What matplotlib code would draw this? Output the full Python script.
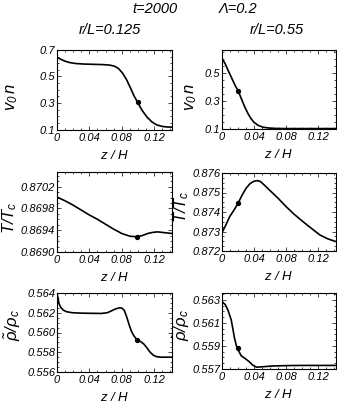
import matplotlib
matplotlib.use("Agg")
import matplotlib.pyplot as plt
from matplotlib.ticker import FixedLocator, AutoMinorLocator

plt.rcParams['font.family'] = ['Liberation Sans', 'DejaVu Sans']
plt.rcParams['mathtext.fontset'] = 'custom'
plt.rcParams['mathtext.it'] = 'Liberation Sans:italic'
plt.rcParams['mathtext.rm'] = 'Liberation Sans:italic'
plt.rcParams['mathtext.sf'] = 'Liberation Sans:italic'

# ---- data ----
x_ticks = [0, 0.04, 0.08, 0.12]
x_tick_labels = ["0", "0.04", "0.08", "0.12"]

# left column r/L = 0.125
vn_left_x = [0.0, 0.004, 0.009, 0.015, 0.023, 0.033, 0.044, 0.056, 0.065, 0.071, 0.076, 0.081, 0.086, 0.091, 0.095, 0.100, 0.105, 0.111, 0.117, 0.123, 0.130, 0.136, 0.142]
vn_left_y = [0.645, 0.632, 0.618, 0.606, 0.598, 0.594, 0.592, 0.590, 0.586, 0.578, 0.560, 0.525, 0.475, 0.410, 0.355, 0.300, 0.245, 0.195, 0.158, 0.135, 0.123, 0.119, 0.118]
vn_left_mark = (0.1, 0.31)

T_left_x = [0.0, 0.01, 0.02, 0.03, 0.04, 0.05, 0.06, 0.07, 0.08, 0.09, 0.098, 0.105, 0.112, 0.118, 0.124, 0.130, 0.136, 0.142]
T_left_y = [0.87001, 0.86994, 0.86986, 0.86977, 0.86968, 0.86960, 0.86951, 0.86942, 0.86934, 0.86929, 0.86928, 0.86930, 0.86934, 0.86936, 0.86937, 0.86936, 0.86935, 0.86934]
T_left_mark = (0.099, 0.86928)

p_left_x = [0.0, 0.001, 0.0025, 0.005, 0.008, 0.012, 0.019, 0.03, 0.044, 0.055, 0.062, 0.067, 0.072, 0.077, 0.080, 0.083, 0.086, 0.089, 0.092, 0.095, 0.098, 0.102, 0.107, 0.111, 0.115, 0.119, 0.123, 0.128, 0.135, 0.142]
p_left_y = [0.5640, 0.5636, 0.5629, 0.5625, 0.56225, 0.56210, 0.56200, 0.56196, 0.56194, 0.56193, 0.56200, 0.56218, 0.56238, 0.56250, 0.56248, 0.56225, 0.56160, 0.56080, 0.56010, 0.55965, 0.55935, 0.55915, 0.55885, 0.55845, 0.55800, 0.55770, 0.55755, 0.55750, 0.55750, 0.55750]
p_left_mark = (0.099, 0.55928)

# right column r/L = 0.55
vn_right_x = [0.0, 0.004, 0.0075, 0.012, 0.016, 0.020, 0.024, 0.028, 0.032, 0.036, 0.040, 0.045, 0.051, 0.058, 0.068, 0.080, 0.100, 0.120, 0.142]
vn_right_y = [0.605, 0.565, 0.520, 0.465, 0.415, 0.373, 0.318, 0.262, 0.214, 0.175, 0.147, 0.126, 0.113, 0.107, 0.104, 0.103, 0.103, 0.103, 0.103]
vn_right_mark = (0.02, 0.373)

T_right_x = [0.0, 0.005, 0.0095, 0.015, 0.020, 0.025, 0.030, 0.035, 0.040, 0.044, 0.048, 0.053, 0.059, 0.070, 0.080, 0.090, 0.101, 0.112, 0.122, 0.132, 0.142]
T_right_y = [0.87294, 0.87335, 0.87376, 0.87410, 0.87445, 0.87486, 0.87522, 0.87546, 0.87558, 0.87561, 0.87556, 0.87537, 0.87513, 0.87470, 0.87427, 0.87388, 0.87350, 0.87314, 0.87282, 0.87262, 0.87248]
T_right_mark = (0.02, 0.87445)

p_right_x = [0.0, 0.004, 0.0075, 0.0115, 0.0135, 0.0156, 0.018, 0.020, 0.024, 0.029, 0.034, 0.038, 0.043, 0.048, 0.055, 0.063, 0.072, 0.085, 0.101, 0.120, 0.142]
p_right_y = [0.56285, 0.56260, 0.56210, 0.56126, 0.56050, 0.55967, 0.55900, 0.55865, 0.55815, 0.55790, 0.55763, 0.55735, 0.55716, 0.55718, 0.55722, 0.55726, 0.55728, 0.55730, 0.55731, 0.55731, 0.55731]
p_right_mark = (0.02, 0.5588)

W, H = 337, 404
fig = plt.figure(figsize=(W / 100, H / 100), dpi=100)

def rect(l, r, t, b):
    return [l / W, 1 - b / H, (r - l) / W, (b - t) / H]

panels = [
    dict(r=rect(57, 172, 50, 129.5), x=vn_left_x, y=vn_left_y, m=vn_left_mark,
         ylim=(0.1, 0.7), yt=[0.1, 0.3, 0.5, 0.7], yfmt="{:.1f}", lab=r"$v_0\,n$", lx=12, ly=97),
    dict(r=rect(222, 336, 50, 129), x=vn_right_x, y=vn_right_y, m=vn_right_mark,
         ylim=(0.1, 0.664), yt=[0.1, 0.3, 0.5], yfmt="{:.1f}", lab=r"$v_0\,n$", lx=191, ly=97),
    dict(r=rect(57, 172, 172, 252), x=T_left_x, y=T_left_y, m=T_left_mark,
         ylim=(0.8690, 0.87047), yt=[0.8690, 0.8694, 0.8698, 0.8702], yfmt="{:.4f}", lab=r"$T/T_c$", lx=10, ly=218),
    dict(r=rect(222, 336, 173, 251), x=T_right_x, y=T_right_y, m=T_right_mark,
         ylim=(0.872, 0.876), yt=[0.872, 0.873, 0.874, 0.875, 0.876], yfmt="{:.3f}", lab=r"$T/T_c$", lx=182, ly=207),
    dict(r=rect(57, 172, 293, 372), x=p_left_x, y=p_left_y, m=p_left_mark,
         ylim=(0.556, 0.564), yt=[0.556, 0.558, 0.560, 0.562, 0.564], yfmt="{:.3f}", lab=r"$\tilde{\rho}/\rho_c$", lx=13, ly=325),
    dict(r=rect(222, 336, 293, 369), x=p_right_x, y=p_right_y, m=p_right_mark,
         ylim=(0.557, 0.5636), yt=[0.557, 0.559, 0.561, 0.563], yfmt="{:.3f}", lab=r"$\tilde{\rho}/\rho_c$", lx=182, ly=325),
]

tick_font = dict(family='Liberation Sans', style='italic', size=8)

for p in panels:
    ax = fig.add_axes(p['r'])
    ax.plot(p['x'], p['y'], color='black', lw=1.2, solid_capstyle='butt')
    ax.plot([p['m'][0]], [p['m'][1]], 'o', color='black', ms=2.8)
    ax.set_xlim(0, 0.142)
    ax.set_ylim(*p['ylim'])
    ax.xaxis.set_major_locator(FixedLocator(x_ticks))
    ax.set_xticklabels(x_tick_labels, **tick_font)
    ax.set_yticks(p['yt'])
    ax.set_yticklabels([p['yfmt'].format(v) for v in p['yt']], **tick_font)
    ax.xaxis.set_minor_locator(AutoMinorLocator(4))
    ax.yaxis.set_minor_locator(AutoMinorLocator(4))
    ax.tick_params(which='both', direction='in', top=True, right=True, width=0.5)
    ax.tick_params(axis='y', pad=1.2)
    ax.tick_params(axis='x', pad=2.5)
    ax.tick_params(which='major', length=3)
    ax.tick_params(which='minor', length=1.5)
    for s in ax.spines.values():
        s.set_linewidth(0.8)
    ax.set_xlabel(r"$z\ /\ H$", fontsize=9.5, labelpad=4)
    fig.text(p['lx'] / W, 1 - p['ly'] / H, p['lab'], rotation=90, fontsize=12,
             ha='center', va='center')

title_font = dict(family='Liberation Sans', style='italic', size=10.5, ha='center', va='center')
fig.text(155 / W, 1 - 9 / H, "t=2000", **title_font)
fig.text(238 / W, 1 - 9 / H, "Λ=0.2", **title_font)
fig.text(110 / W, 1 - 30 / H, "r/L=0.125", **title_font)
fig.text(277 / W, 1 - 30 / H, "r/L=0.55", **title_font)

fig.savefig("out.png", dpi=100)
